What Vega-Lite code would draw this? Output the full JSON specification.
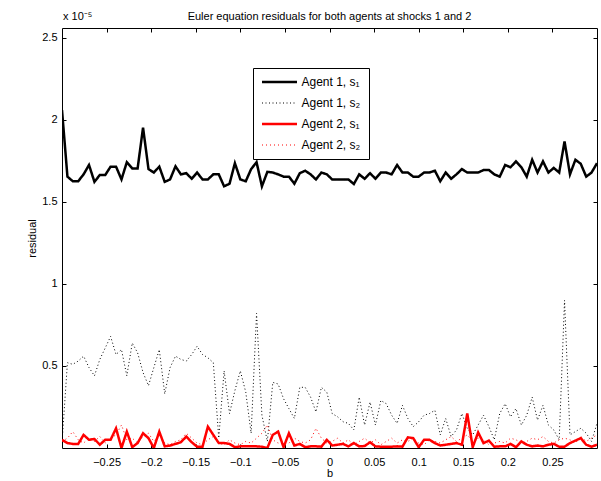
{
  "$schema": "https://vega.github.io/schema/vega-lite/v6.json",
  "width": 535,
  "height": 420,
  "autosize": "none",
  "padding": {"left": 62, "top": 28, "right": 4, "bottom": 33},
  "background": "#ffffff",
  "title": {"text": "Euler equation residuals for both agents at shocks 1 and 2", "fontSize": 11, "fontWeight": "normal", "font": "Liberation Sans", "color": "#000", "offset": -11},
  "config": {
    "view": {"stroke": "#000", "strokeWidth": 1},
    "font": "Liberation Sans",
    "axis": {"grid": false, "domain": false, "tickColor": "#000", "tickSize": -4, "tickWidth": 1, "labelColor": "#000", "labelFontSize": 11, "labelFont": "Liberation Sans", "titleColor": "#000", "titleFontSize": 11, "titleFont": "Liberation Sans", "titleFontWeight": "normal"}
  },
  "layer": [
    {
      "data": {"values": [
        {"b": -0.3, "A1s1": 2.06e-5, "A1s2": 0.03e-5, "A2s1": 0.05e-5, "A2s2": 0.04e-5},
        {"b": -0.2939, "A1s1": 1.654e-5, "A1s2": 0.52e-5, "A2s1": 0.03e-5, "A2s2": 0.06e-5},
        {"b": -0.2879, "A1s1": 1.626e-5, "A1s2": 0.51e-5, "A2s1": 0.025e-5, "A2s2": 0.10e-5},
        {"b": -0.2818, "A1s1": 1.626e-5, "A1s2": 0.53e-5, "A2s1": 0.025e-5, "A2s2": 0.05e-5},
        {"b": -0.2758, "A1s1": 1.668e-5, "A1s2": 0.56e-5, "A2s1": 0.08e-5, "A2s2": 0.03e-5},
        {"b": -0.2697, "A1s1": 1.725e-5, "A1s2": 0.49e-5, "A2s1": 0.05e-5, "A2s2": 0.06e-5},
        {"b": -0.2636, "A1s1": 1.622e-5, "A1s2": 0.44e-5, "A2s1": 0.055e-5, "A2s2": 0.04e-5},
        {"b": -0.2576, "A1s1": 1.664e-5, "A1s2": 0.54e-5, "A2s1": 0.02e-5, "A2s2": 0.07e-5},
        {"b": -0.2515, "A1s1": 1.664e-5, "A1s2": 0.61e-5, "A2s1": 0.05e-5, "A2s2": 0.03e-5},
        {"b": -0.2455, "A1s1": 1.715e-5, "A1s2": 0.68e-5, "A2s1": 0.05e-5, "A2s2": 0.06e-5},
        {"b": -0.2394, "A1s1": 1.715e-5, "A1s2": 0.57e-5, "A2s1": 0.12e-5, "A2s2": 0.08e-5},
        {"b": -0.2333, "A1s1": 1.637e-5, "A1s2": 0.60e-5, "A2s1": 0, "A2s2": 0.14e-5},
        {"b": -0.2273, "A1s1": 1.742e-5, "A1s2": 0.44e-5, "A2s1": 0.10e-5, "A2s2": 0.05e-5},
        {"b": -0.2212, "A1s1": 1.704e-5, "A1s2": 0.64e-5, "A2s1": 0.005e-5, "A2s2": 0.06e-5},
        {"b": -0.2152, "A1s1": 1.704e-5, "A1s2": 0.58e-5, "A2s1": 0.03e-5, "A2s2": 0.03e-5},
        {"b": -0.2091, "A1s1": 1.953e-5, "A1s2": 0.46e-5, "A2s1": 0.09e-5, "A2s2": 0.07e-5},
        {"b": -0.2030, "A1s1": 1.700e-5, "A1s2": 0.38e-5, "A2s1": 0.06e-5, "A2s2": 0.09e-5},
        {"b": -0.1970, "A1s1": 1.679e-5, "A1s2": 0.49e-5, "A2s1": 0, "A2s2": 0.04e-5},
        {"b": -0.1909, "A1s1": 1.715e-5, "A1s2": 0.60e-5, "A2s1": 0.10e-5, "A2s2": 0.08e-5},
        {"b": -0.1848, "A1s1": 1.622e-5, "A1s2": 0.33e-5, "A2s1": 0.01e-5, "A2s2": 0.03e-5},
        {"b": -0.1788, "A1s1": 1.637e-5, "A1s2": 0.49e-5, "A2s1": 0.015e-5, "A2s2": 0.02e-5},
        {"b": -0.1727, "A1s1": 1.717e-5, "A1s2": 0.56e-5, "A2s1": 0.025e-5, "A2s2": 0.04e-5},
        {"b": -0.1667, "A1s1": 1.668e-5, "A1s2": 0.54e-5, "A2s1": 0.035e-5, "A2s2": 0.05e-5},
        {"b": -0.1606, "A1s1": 1.675e-5, "A1s2": 0.53e-5, "A2s1": 0.07e-5, "A2s2": 0.09e-5},
        {"b": -0.1545, "A1s1": 1.641e-5, "A1s2": 0.57e-5, "A2s1": 0.035e-5, "A2s2": 0.06e-5},
        {"b": -0.1485, "A1s1": 1.679e-5, "A1s2": 0.62e-5, "A2s1": 0.008e-5, "A2s2": 0.03e-5},
        {"b": -0.1424, "A1s1": 1.637e-5, "A1s2": 0.57e-5, "A2s1": 0.008e-5, "A2s2": 0.02e-5},
        {"b": -0.1364, "A1s1": 1.637e-5, "A1s2": 0.55e-5, "A2s1": 0.13e-5, "A2s2": 0.05e-5},
        {"b": -0.1303, "A1s1": 1.668e-5, "A1s2": 0.52e-5, "A2s1": 0.08e-5, "A2s2": 0.07e-5},
        {"b": -0.1242, "A1s1": 1.668e-5, "A1s2": 0.06e-5, "A2s1": 0.03e-5, "A2s2": 0.03e-5},
        {"b": -0.1182, "A1s1": 1.595e-5, "A1s2": 0.47e-5, "A2s1": 0.03e-5, "A2s2": 0.02e-5},
        {"b": -0.1121, "A1s1": 1.611e-5, "A1s2": 0.21e-5, "A2s1": 0.025e-5, "A2s2": 0.05e-5},
        {"b": -0.1061, "A1s1": 1.736e-5, "A1s2": 0.35e-5, "A2s1": 0.005e-5, "A2s2": 0.03e-5},
        {"b": -0.1000, "A1s1": 1.637e-5, "A1s2": 0.47e-5, "A2s1": 0.01e-5, "A2s2": 0.02e-5},
        {"b": -0.0939, "A1s1": 1.626e-5, "A1s2": 0.34e-5, "A2s1": 0.01e-5, "A2s2": 0.04e-5},
        {"b": -0.0879, "A1s1": 1.700e-5, "A1s2": 0.09e-5, "A2s1": 0.01e-5, "A2s2": 0.03e-5},
        {"b": -0.0818, "A1s1": 1.742e-5, "A1s2": 0.82e-5, "A2s1": 0.01e-5, "A2s2": 0.06e-5},
        {"b": -0.0758, "A1s1": 1.595e-5, "A1s2": 0.20e-5, "A2s1": 0.008e-5, "A2s2": 0.09e-5},
        {"b": -0.0697, "A1s1": 1.683e-5, "A1s2": 0.04e-5, "A2s1": 0, "A2s2": 0.14e-5},
        {"b": -0.0636, "A1s1": 1.679e-5, "A1s2": 0.40e-5, "A2s1": 0.08e-5, "A2s2": 0.05e-5},
        {"b": -0.0576, "A1s1": 1.668e-5, "A1s2": 0.39e-5, "A2s1": 0.10e-5, "A2s2": 0.03e-5},
        {"b": -0.0515, "A1s1": 1.654e-5, "A1s2": 0.30e-5, "A2s1": 0.005e-5, "A2s2": 0.04e-5},
        {"b": -0.0455, "A1s1": 1.654e-5, "A1s2": 0.24e-5, "A2s1": 0.09e-5, "A2s2": 0.03e-5},
        {"b": -0.0394, "A1s1": 1.611e-5, "A1s2": 0.18e-5, "A2s1": 0.015e-5, "A2s2": 0.06e-5},
        {"b": -0.0333, "A1s1": 1.675e-5, "A1s2": 0.37e-5, "A2s1": 0.025e-5, "A2s2": 0.04e-5},
        {"b": -0.0273, "A1s1": 1.690e-5, "A1s2": 0.37e-5, "A2s1": 0.005e-5, "A2s2": 0.03e-5},
        {"b": -0.0212, "A1s1": 1.668e-5, "A1s2": 0.31e-5, "A2s1": 0.01e-5, "A2s2": 0.05e-5},
        {"b": -0.0152, "A1s1": 1.637e-5, "A1s2": 0.22e-5, "A2s1": 0.01e-5, "A2s2": 0.12e-5},
        {"b": -0.0091, "A1s1": 1.679e-5, "A1s2": 0.37e-5, "A2s1": 0.008e-5, "A2s2": 0.06e-5},
        {"b": -0.0030, "A1s1": 1.668e-5, "A1s2": 0.34e-5, "A2s1": 0.05e-5, "A2s2": 0.03e-5},
        {"b": 0.0030, "A1s1": 1.637e-5, "A1s2": 0.21e-5, "A2s1": 0.015e-5, "A2s2": 0.04e-5},
        {"b": 0.0091, "A1s1": 1.637e-5, "A1s2": 0.19e-5, "A2s1": 0.02e-5, "A2s2": 0.06e-5},
        {"b": 0.0152, "A1s1": 1.637e-5, "A1s2": 0.16e-5, "A2s1": 0.025e-5, "A2s2": 0.03e-5},
        {"b": 0.0212, "A1s1": 1.637e-5, "A1s2": 0.15e-5, "A2s1": 0.01e-5, "A2s2": 0.05e-5},
        {"b": 0.0273, "A1s1": 1.609e-5, "A1s2": 0.11e-5, "A2s1": 0.03e-5, "A2s2": 0.02e-5},
        {"b": 0.0333, "A1s1": 1.668e-5, "A1s2": 0.31e-5, "A2s1": 0.01e-5, "A2s2": 0.04e-5},
        {"b": 0.0394, "A1s1": 1.641e-5, "A1s2": 0.14e-5, "A2s1": 0.012e-5, "A2s2": 0.06e-5},
        {"b": 0.0455, "A1s1": 1.675e-5, "A1s2": 0.28e-5, "A2s1": 0.035e-5, "A2s2": 0.03e-5},
        {"b": 0.0515, "A1s1": 1.641e-5, "A1s2": 0.14e-5, "A2s1": 0.01e-5, "A2s2": 0.05e-5},
        {"b": 0.0576, "A1s1": 1.679e-5, "A1s2": 0.29e-5, "A2s1": 0.008e-5, "A2s2": 0.02e-5},
        {"b": 0.0636, "A1s1": 1.679e-5, "A1s2": 0.27e-5, "A2s1": 0.008e-5, "A2s2": 0.04e-5},
        {"b": 0.0697, "A1s1": 1.668e-5, "A1s2": 0.20e-5, "A2s1": 0.008e-5, "A2s2": 0.06e-5},
        {"b": 0.0758, "A1s1": 1.725e-5, "A1s2": 0.15e-5, "A2s1": 0.01e-5, "A2s2": 0.03e-5},
        {"b": 0.0818, "A1s1": 1.679e-5, "A1s2": 0.26e-5, "A2s1": 0.008e-5, "A2s2": 0.05e-5},
        {"b": 0.0879, "A1s1": 1.679e-5, "A1s2": 0.18e-5, "A2s1": 0.065e-5, "A2s2": 0.04e-5},
        {"b": 0.0939, "A1s1": 1.654e-5, "A1s2": 0.13e-5, "A2s1": 0.06e-5, "A2s2": 0.06e-5},
        {"b": 0.1000, "A1s1": 1.654e-5, "A1s2": 0.16e-5, "A2s1": 0.005e-5, "A2s2": 0.03e-5},
        {"b": 0.1061, "A1s1": 1.679e-5, "A1s2": 0.20e-5, "A2s1": 0.05e-5, "A2s2": 0.02e-5},
        {"b": 0.1121, "A1s1": 1.679e-5, "A1s2": 0.21e-5, "A2s1": 0.05e-5, "A2s2": 0.05e-5},
        {"b": 0.1182, "A1s1": 1.690e-5, "A1s2": 0.23e-5, "A2s1": 0.03e-5, "A2s2": 0.04e-5},
        {"b": 0.1242, "A1s1": 1.626e-5, "A1s2": 0.08e-5, "A2s1": 0.015e-5, "A2s2": 0.03e-5},
        {"b": 0.1303, "A1s1": 1.679e-5, "A1s2": 0.18e-5, "A2s1": 0.02e-5, "A2s2": 0.05e-5},
        {"b": 0.1364, "A1s1": 1.641e-5, "A1s2": 0.07e-5, "A2s1": 0.025e-5, "A2s2": 0.07e-5},
        {"b": 0.1424, "A1s1": 1.668e-5, "A1s2": 0.11e-5, "A2s1": 0.03e-5, "A2s2": 0.04e-5},
        {"b": 0.1485, "A1s1": 1.700e-5, "A1s2": 0.21e-5, "A2s1": 0.02e-5, "A2s2": 0.06e-5},
        {"b": 0.1545, "A1s1": 1.679e-5, "A1s2": 0.12e-5, "A2s1": 0.21e-5, "A2s2": 0.08e-5},
        {"b": 0.1606, "A1s1": 1.679e-5, "A1s2": 0.08e-5, "A2s1": 0.005e-5, "A2s2": 0.04e-5},
        {"b": 0.1667, "A1s1": 1.679e-5, "A1s2": 0.14e-5, "A2s1": 0.095e-5, "A2s2": 0.06e-5},
        {"b": 0.1727, "A1s1": 1.694e-5, "A1s2": 0.20e-5, "A2s1": 0.03e-5, "A2s2": 0.05e-5},
        {"b": 0.1788, "A1s1": 1.694e-5, "A1s2": 0.13e-5, "A2s1": 0.045e-5, "A2s2": 0.02e-5},
        {"b": 0.1848, "A1s1": 1.668e-5, "A1s2": 0.05e-5, "A2s1": 0.008e-5, "A2s2": 0.03e-5},
        {"b": 0.1909, "A1s1": 1.654e-5, "A1s2": 0.21e-5, "A2s1": 0.01e-5, "A2s2": 0.04e-5},
        {"b": 0.1970, "A1s1": 1.725e-5, "A1s2": 0.27e-5, "A2s1": 0.01e-5, "A2s2": 0.03e-5},
        {"b": 0.2030, "A1s1": 1.711e-5, "A1s2": 0.19e-5, "A2s1": 0.025e-5, "A2s2": 0.06e-5},
        {"b": 0.2091, "A1s1": 1.747e-5, "A1s2": 0.24e-5, "A2s1": 0.005e-5, "A2s2": 0.05e-5},
        {"b": 0.2152, "A1s1": 1.711e-5, "A1s2": 0.14e-5, "A2s1": 0.04e-5, "A2s2": 0.03e-5},
        {"b": 0.2212, "A1s1": 1.654e-5, "A1s2": 0.20e-5, "A2s1": 0.02e-5, "A2s2": 0.04e-5},
        {"b": 0.2273, "A1s1": 1.757e-5, "A1s2": 0.31e-5, "A2s1": 0.01e-5, "A2s2": 0.06e-5},
        {"b": 0.2333, "A1s1": 1.679e-5, "A1s2": 0.17e-5, "A2s1": 0.015e-5, "A2s2": 0.05e-5},
        {"b": 0.2394, "A1s1": 1.747e-5, "A1s2": 0.26e-5, "A2s1": 0.01e-5, "A2s2": 0.07e-5},
        {"b": 0.2455, "A1s1": 1.679e-5, "A1s2": 0.14e-5, "A2s1": 0.02e-5, "A2s2": 0.04e-5},
        {"b": 0.2515, "A1s1": 1.707e-5, "A1s2": 0.11e-5, "A2s1": 0.025e-5, "A2s2": 0.03e-5},
        {"b": 0.2576, "A1s1": 1.679e-5, "A1s2": 0.05e-5, "A2s1": 0.008e-5, "A2s2": 0.05e-5},
        {"b": 0.2636, "A1s1": 1.869e-5, "A1s2": 0.90e-5, "A2s1": 0.008e-5, "A2s2": 0.06e-5},
        {"b": 0.2697, "A1s1": 1.668e-5, "A1s2": 0.08e-5, "A2s1": 0.03e-5, "A2s2": 0.05e-5},
        {"b": 0.2758, "A1s1": 1.757e-5, "A1s2": 0.10e-5, "A2s1": 0.045e-5, "A2s2": 0.03e-5},
        {"b": 0.2818, "A1s1": 1.732e-5, "A1s2": 0.12e-5, "A2s1": 0.06e-5, "A2s2": 0.07e-5},
        {"b": 0.2879, "A1s1": 1.654e-5, "A1s2": 0.09e-5, "A2s1": 0.02e-5, "A2s2": 0.04e-5},
        {"b": 0.2939, "A1s1": 1.679e-5, "A1s2": 0.04e-5, "A2s1": 0.008e-5, "A2s2": 0.06e-5},
        {"b": 0.3, "A1s1": 1.736e-5, "A1s2": 0.15e-5, "A2s1": 0.02e-5, "A2s2": 0.08e-5}
      ]},
      "transform": [{"fold": ["A1s1", "A1s2", "A2s1", "A2s2"], "as": ["series", "residual"]}],
      "mark": {"type": "line", "clip": true},
      "encoding": {
        "x": {"field": "b", "type": "quantitative", "scale": {"domain": [-0.3, 0.3], "nice": false, "zero": false},
              "axis": {"orient": "bottom", "values": [-0.25, -0.2, -0.15, -0.1, -0.05, 0, 0.05, 0.1, 0.15, 0.2, 0.25], "format": "~g", "labelPadding": 12, "title": "b", "titlePadding": 0}},
        "y": {"field": "residual", "type": "quantitative", "scale": {"domain": [0, 2.56e-5], "nice": false, "zero": false},
              "axis": {"orient": "left", "values": [0.5e-5, 1e-5, 1.5e-5, 2e-5, 2.5e-5], "labelExpr": "format(datum.value*1e5, '~g')", "labelPadding": 9, "title": "residual", "titlePadding": 4}},
        "color": {"field": "series", "type": "nominal",
                  "scale": {"domain": ["A1s1", "A1s2", "A2s1", "A2s2"], "range": ["#000000", "#000000", "#ff0000", "#ff0000"]},
                  "legend": {"orient": "none", "legendX": 191, "legendY": 40, "title": null, "symbolType": "stroke", "symbolSize": 1225, "rowPadding": 9, "padding": 8, "labelOffset": 16, "symbolOffset": 12.5,
                             "fillColor": "#ffffff", "strokeColor": "#000000", "labelFontSize": 12, "labelFont": "Liberation Sans", "labelColor": "#000",
                             "labelExpr": "datum.label == 'A1s1' ? 'Agent 1, s₁' : datum.label == 'A1s2' ? 'Agent 1, s₂' : datum.label == 'A2s1' ? 'Agent 2, s₁' : 'Agent 2, s₂'",
                             "encode": {"symbols": {"update": {"strokeWidth": {"signal": "datum.value == 'A1s1' || datum.value == 'A2s1' ? 2.5 : 1"}}}}}},
        "strokeDash": {"field": "series", "type": "nominal",
                       "scale": {"domain": ["A1s1", "A1s2", "A2s1", "A2s2"], "range": [[1, 0], [1, 2.5], [1, 0], [1, 3]]}},
        "strokeWidth": {"condition": {"test": "datum.series == 'A1s1' || datum.series == 'A2s1'", "value": 2.5}, "value": 1}
      }
    },
    {
      "data": {"values": [{"note": "x 10⁻⁵"}]},
      "mark": {"type": "text", "align": "left", "baseline": "bottom", "dx": 1, "dy": -6, "fontSize": 11, "font": "Liberation Sans", "color": "#000"},
      "encoding": {
        "x": {"datum": -0.3, "type": "quantitative", "scale": {"domain": [-0.3, 0.3], "nice": false, "zero": false},
              "axis": {"orient": "top", "labels": false, "title": null, "values": [-0.25, -0.2, -0.15, -0.1, -0.05, 0, 0.05, 0.1, 0.15, 0.2, 0.25]}},
        "y": {"datum": 2.56e-5, "type": "quantitative", "scale": {"domain": [0, 2.56e-5], "nice": false, "zero": false},
              "axis": {"orient": "right", "labels": false, "title": null, "values": [0.5e-5, 1e-5, 1.5e-5, 2e-5, 2.5e-5]}},
        "text": {"field": "note", "type": "nominal"}
      }
    }
  ],
  "resolve": {"axis": {"x": "independent", "y": "independent"}}
}
